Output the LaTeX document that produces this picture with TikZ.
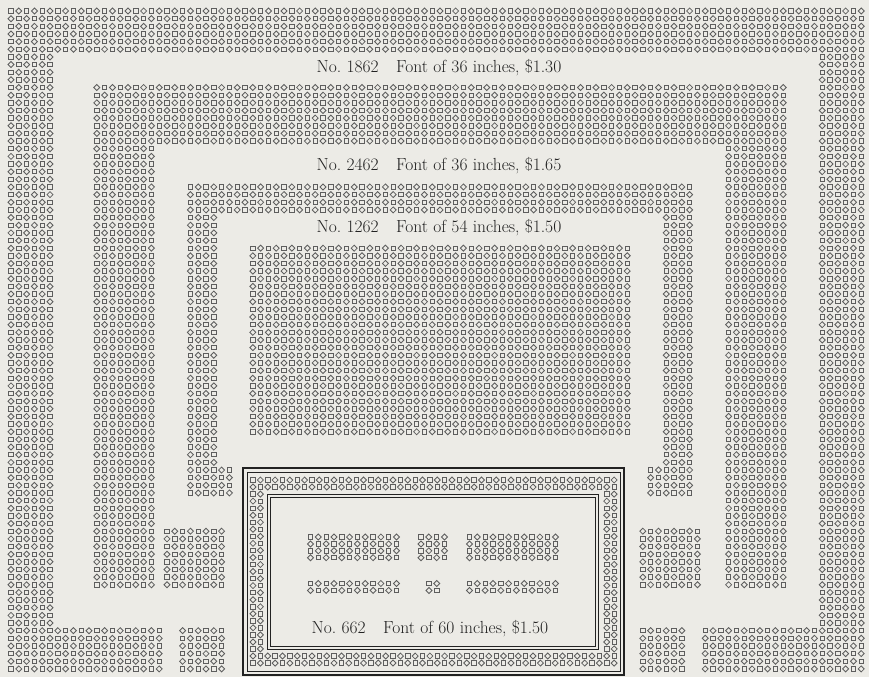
\documentclass[tikz,border=0pt]{standalone}
\usepackage{fontspec}
\usepackage{tikz}
\definecolor{Paper}{HTML}{ECEBE6}
\definecolor{OrnInk}{HTML}{5E5E5E}
\definecolor{FigInk}{HTML}{222222}
% field of border ornaments: origin x, origin y, pitch x, pitch y, i0, i1, j0, j1
\newcommand{\ornfield}[8]{%
  \foreach \i in {#5,...,#6}{%
    \foreach \j in {#7,...,#8}{%
      \ifodd\numexpr\i+\j\relax
        \draw[orn] ({#1+#3*\i},{#2+#4*\j-3}) -- ++(3,3) -- ++(-3,3) -- ++(-3,-3) -- cycle;
      \else
        \draw[orn] ({#1+#3*\i-2.2},{#2+#4*\j-2.2}) rectangle ++(4.4,4.4);
      \fi}}}
\newcommand{\mainfield}[4]{\ornfield{11}{11}{7.8}{7.65}{#1}{#2}{#3}{#4}}
\newcommand{\boxfield}[4]{\ornfield{253}{480}{7.37}{7.04}{#1}{#2}{#3}{#4}}

\begin{document}
\begin{tikzpicture}[
    x=1pt, y=-1pt,
    orn/.style={draw=OrnInk, line width=0.85pt},
    caption/.style={
      font=\fontsize{17.5}{20}\selectfont, text=FigInk, inner sep=0pt,
    },
    rulebold/.style={draw=FigInk, line width=2.2pt},
    rulefine/.style={draw=FigInk, line width=0.7pt},
  ]
    \fill[Paper] (0,0) rectangle (869,677);
    \useasboundingbox (0,0) rectangle (869,677);

    % No. 1862
    \mainfield{0}{109}{0}{5}
    \mainfield{0}{5}{6}{80}
    \mainfield{0}{19}{81}{86}
    \mainfield{104}{109}{6}{80}
    \mainfield{89}{109}{81}{86}
    \mainfield{22}{27}{81}{86}
    \mainfield{81}{86}{81}{86}
    \mainfield{20}{27}{68}{75}
    \mainfield{81}{88}{68}{75}

    % No. 2462
    \mainfield{11}{99}{10}{17}
    \mainfield{11}{18}{18}{75}
    \mainfield{92}{99}{18}{75}

    % No. 1262
    \mainfield{23}{87}{23}{26}
    \mainfield{23}{26}{27}{59}
    \mainfield{84}{87}{27}{59}
    \mainfield{23}{28}{60}{63}
    \mainfield{82}{87}{60}{63}
    \mainfield{31}{79}{31}{55}

    % No. 662
    \draw[rulebold] (243,468) rectangle (624,675);
    \draw[rulefine] (247,472) rectangle (620,671);
    \boxfield{0}{49}{0}{1}
    \boxfield{0}{49}{25}{26}
    \boxfield{0}{1}{2}{24}
    \boxfield{48}{49}{2}{24}
    \draw[rulefine] (267.5,494.5) rectangle (598.5,649.5);
    \draw[rulebold, line width=1.6pt] (270.5,497.5) rectangle (595.5,646.5);
    \ornfield{310.5}{537}{7.82}{6.9}{0}{11}{0}{3}
    \ornfield{421}{537}{7.82}{6.9}{0}{3}{0}{3}
    \ornfield{469.5}{537}{7.82}{6.9}{0}{11}{0}{3}
    \ornfield{310.5}{583.5}{7.82}{6.9}{0}{11}{0}{1}
    \ornfield{429}{583.5}{7.82}{6.9}{0}{1}{0}{1}
    \ornfield{469.5}{583.5}{7.82}{6.9}{0}{11}{0}{1}

    \node[caption] (cap1862) at (439,68) {No.~1862\quad Font of 36 inches, \$1.30};
    \node[caption] (cap2462) at (439,166) {No.~2462\quad Font of 36 inches, \$1.65};
    \node[caption] (cap1262) at (439,228) {No.~1262\quad Font of 54 inches, \$1.50};
    \node[caption] (cap662) at (430,629) {No.~662\quad Font of 60 inches, \$1.50};
  \end{tikzpicture}
\end{document}
